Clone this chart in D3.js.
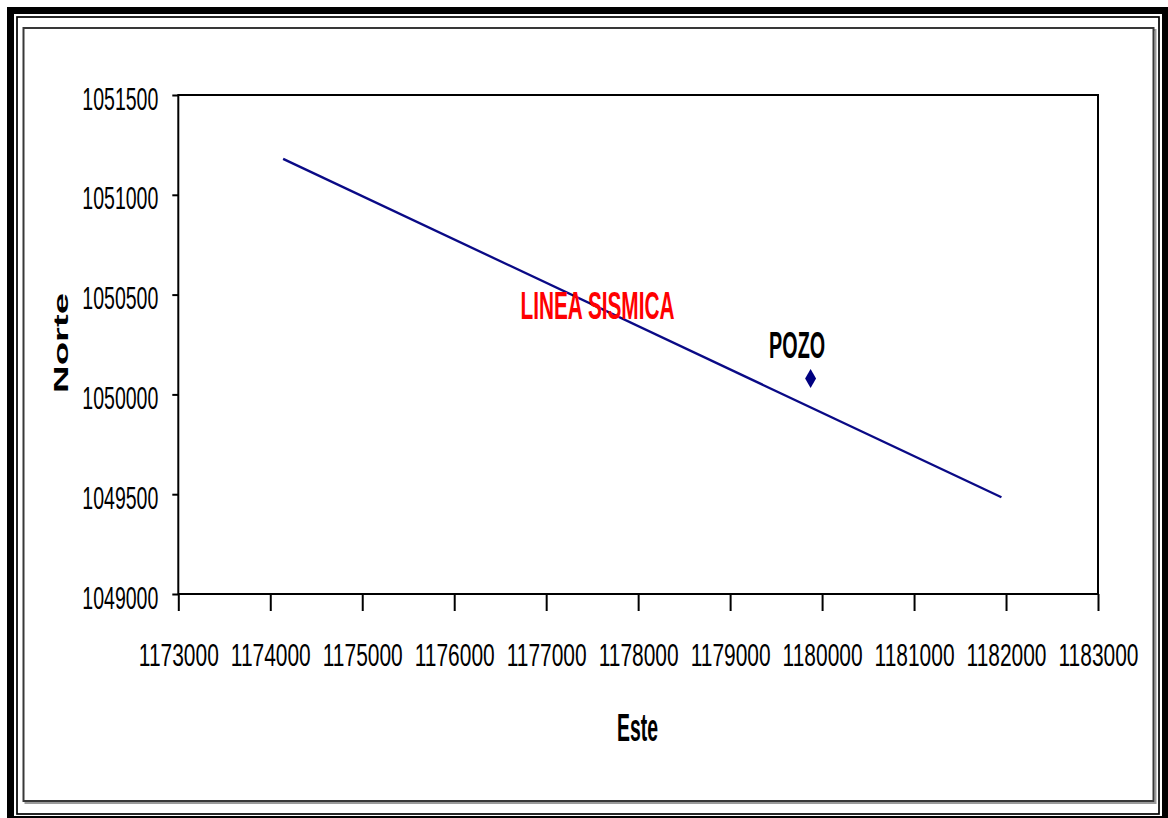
<!DOCTYPE html>
<html>
<head>
<meta charset="utf-8">
<script src="https://cdn.jsdelivr.net/npm/d3@7"></script>
<style>
  html, body { margin: 0; padding: 0; background: #fff; }
  svg { display: block; }
  text { font-family: "Liberation Sans", Arial, sans-serif; }
</style>
</head>
<body>
<svg id="chart" width="1168" height="818"></svg>
<script>
// Axis ticks (coordinates in metres)
const esteTicks = [1173000, 1174000, 1175000, 1176000, 1177000, 1178000,
                   1179000, 1180000, 1181000, 1182000, 1183000];
const norteTicks = [1049000, 1049500, 1050000, 1050500, 1051000, 1051500];

// Seismic line (two end points)
const lineaEste  = [1174140, 1181950];
const lineaNorte = [1051180, 1049485];

// Well location
const pozoEste  = [1179875];
const pozoNorte = [1050080];

const lineaLabel = "LINEA SISMICA";
const pozoLabel = "POZO";
const xTitle = "Este";
const yTitle = "Norte";

const svg = d3.select("#chart");

// Squeeze a text horizontally so it spans `w` pixels, anchored at (tx, ty).
function condense(sel, tx, ty, w, anchor) {
  sel.each(function (d, i) {
    const t = d3.select(this)
      .attr("x", 0).attr("y", 0).attr("dy", null)
      .attr("text-anchor", anchor);
    const len = this.getComputedTextLength();
    const px = typeof tx === "function" ? tx(d, i) : tx;
    const py = typeof ty === "function" ? ty(d, i) : ty;
    t.attr("transform", `translate(${px},${py}) scale(${w / len},1)`);
  });
}

// ---- Frames around the chart ----
svg.append("rect").attr("x", 7).attr("y", 7).attr("width", 1170).attr("height", 820).attr("fill", "#000");
svg.append("rect").attr("x", 14).attr("y", 14).attr("width", 1148).attr("height", 802).attr("fill", "#fff");
svg.append("rect").attr("x", 17).attr("y", 17).attr("width", 1142).attr("height", 797)
  .attr("fill", "none").attr("stroke", "#000").attr("stroke-width", 1.7);
// chart area with a small shadow
svg.append("rect").attr("x", 25.5).attr("y", 30).attr("width", 1130).attr("height", 773)
  .attr("fill", "none").attr("stroke", "#9a9a9a").attr("stroke-width", 2);
svg.append("rect").attr("x", 23.5).attr("y", 28).attr("width", 1130).attr("height", 773)
  .attr("fill", "#fff").attr("stroke", "#383838").attr("stroke-width", 2);

// ---- Scales ----
const plot = { left: 178.3, right: 1098, top: 95, bottom: 594 };
const x = d3.scaleLinear().domain([1173000, 1183000]).range([plot.left, plot.right]);
const y = d3.scaleLinear().domain([1049000, 1051500]).range([plot.bottom, plot.top]);

// ---- Axes ----
const xAxis = svg.append("g")
  .attr("transform", `translate(0,${plot.bottom})`)
  .call(d3.axisBottom(x).tickValues(esteTicks).tickSizeInner(17).tickSizeOuter(0).tickFormat(d3.format("d")));
xAxis.select(".domain").remove();
xAxis.selectAll(".tick line").attr("stroke", "#000").attr("stroke-width", 2);
xAxis.selectAll(".tick text")
  .attr("font-size", 32).attr("fill", "#000")
  .call(condense, 0, 72, 80, "middle");

const yAxis = svg.append("g")
  .attr("transform", `translate(${plot.left},0)`)
  .call(d3.axisLeft(y).tickValues(norteTicks).tickSizeInner(6).tickSizeOuter(0).tickFormat(d3.format("d")));
yAxis.select(".domain").remove();
yAxis.selectAll(".tick line").attr("stroke", "#000").attr("stroke-width", 2);
yAxis.selectAll(".tick text")
  .attr("font-size", 31).attr("fill", "#000")
  .call(condense, -20, 14, 76, "end");

// plot area border
svg.append("rect")
  .attr("x", plot.left).attr("y", plot.top)
  .attr("width", plot.right - plot.left).attr("height", plot.bottom - plot.top)
  .attr("fill", "none").attr("stroke", "#000").attr("stroke-width", 2);

// ---- Seismic line ----
const lineaPts = lineaEste.map((e, i) => [e, lineaNorte[i]]);
svg.append("path")
  .datum(lineaPts)
  .attr("d", d3.line().x(d => x(d[0])).y(d => y(d[1])))
  .attr("fill", "none").attr("stroke", "#0a0a86").attr("stroke-width", 2.3);

// ---- Well marker ----
const pozoPts = pozoEste.map((e, i) => [e, pozoNorte[i]]);
svg.selectAll(".pozo")
  .data(pozoPts)
  .join("path")
  .attr("class", "pozo")
  .attr("transform", d => `translate(${x(d[0])},${y(d[1])})`)
  .attr("d", d3.symbol(d3.symbolDiamond, 104))
  .attr("fill", "#000080");

// well label, above-left of the marker
svg.selectAll(".pozo-label")
  .data(pozoPts)
  .join("text")
  .attr("class", "pozo-label")
  .attr("font-size", 37).attr("font-weight", "bold").attr("fill", "#000")
  .text(pozoLabel)
  .call(condense, d => x(d[0]) - 13.5, d => y(d[1]) - 20, 56, "middle");

// seismic line label
svg.append("text")
  .attr("font-size", 38).attr("font-weight", "bold").attr("fill", "#ff0000")
  .text(lineaLabel)
  .call(condense, 597.5, 319, 154, "middle");

// ---- Axis titles ----
svg.append("text")
  .attr("font-size", 39).attr("font-weight", "bold").attr("fill", "#000")
  .text(xTitle)
  .call(condense, 637.5, 741, 41, "middle");

svg.append("text")
  .attr("transform", "translate(68,343) scale(0.54,1) rotate(-90)")
  .attr("text-anchor", "middle")
  .attr("font-size", 39).attr("font-weight", "bold").attr("fill", "#000")
  .attr("textLength", 100).attr("lengthAdjust", "spacingAndGlyphs")
  .text(yTitle);
</script>
</body>
</html>
